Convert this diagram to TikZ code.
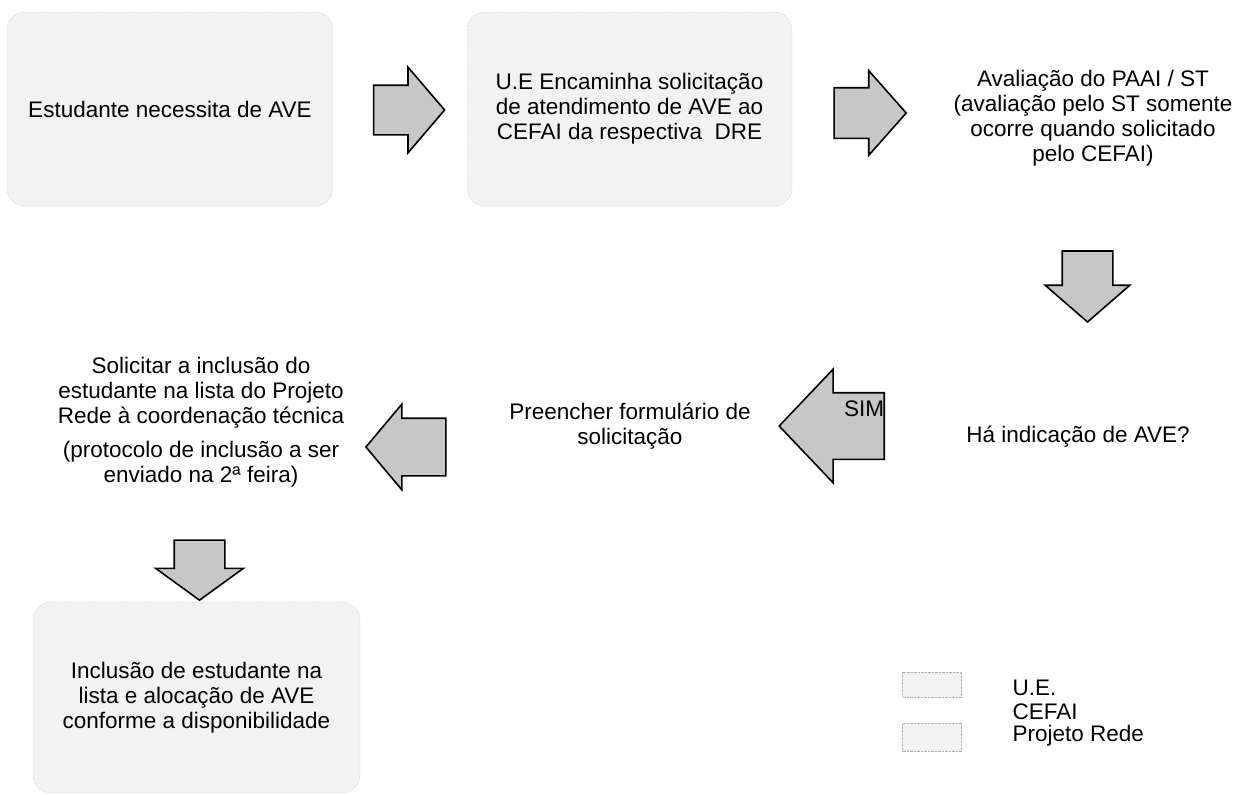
\documentclass[tikz,border=0pt]{standalone}
\usepackage{fontspec}
\setmainfont{Liberation Sans}
\usetikzlibrary{shapes.arrows}

\begin{document}
\begin{tikzpicture}[x=1pt, y=-1pt,
    font=\fontsize{22.5}{25}\selectfont,
    uebox/.style={rounded corners=18pt, fill=black!5, draw=black!35, densely dotted, thin},
    keybox/.style={fill=black!5, draw=black!30, densely dotted, thin},
    blockarrow/.style={single arrow, draw=black, fill=black!22, line width=1.6pt, inner sep=0pt}]
    \useasboundingbox (0,0) rectangle (1235,795);
    % boxes and texts
    \node[uebox, minimum width=326pt, minimum height=194pt] at (170,109) (P0) {Estudante necessita de AVE};
    \node[uebox, minimum width=325pt, minimum height=194pt, align=center] at (629.5,109) (P1) {U.E Encaminha solicitação\\de atendimento de AVE ao\\CEFAI da respectiva\ \ DRE};
    \node[align=center] at (1093,118) (P2) {Avaliação do PAAI / ST\\(avaliação pelo ST somente\\ocorre quando solicitado\\pelo CEFAI)};
    \node at (1078,437) (P3) {Há indicação de AVE?};
    \node[align=center] at (630,426) (P4) {Preencher formulário de\\solicitação};
    \node[align=center] at (201,422) (P5) {Solicitar a inclusão do\\estudante na lista do Projeto\\Rede à coordenação técnica\\[9pt](protocolo de inclusão a ser\\enviado na 2ª feira)};
    \node[uebox, minimum width=327pt, minimum height=191pt, align=center] at (196.5,697.5) (P6) {Inclusão de estudante na\\lista e alocação de AVE\\conforme a disponibilidade};
    % block arrows
    \node[blockarrow, minimum height=71pt, single arrow head extend=18pt, single arrow tip angle=99] at (398.5,110) (A0) {\rule{0pt}{48pt}};
    \node[blockarrow, minimum height=72pt, single arrow head extend=17pt, single arrow tip angle=97] at (859,113) (A1) {\rule{0pt}{49pt}};
    \node[blockarrow, rotate=-90, minimum height=71pt, single arrow head extend=17pt, single arrow tip angle=98] at (1087.5,275.5) (A2) {\rule{0pt}{49pt}};
    \node[blockarrow, rotate=180, minimum height=105pt, single arrow head extend=23.5pt, single arrow tip angle=93] at (847.5,426) (A3) {\rule{0pt}{65pt}};
    \node[blockarrow, rotate=180, minimum height=80pt, single arrow head extend=14pt, single arrow tip angle=100] at (418,447) (A4) {\rule{0pt}{56pt}};
    \node[blockarrow, rotate=-90, minimum height=60pt, single arrow head extend=18.5pt, single arrow tip angle=108] at (199.5,561) (A5) {\rule{0pt}{49pt}};
    \node at (864,409) (S) {SIM};
    % legend
    \node[keybox, minimum width=59pt, minimum height=25pt] at (932,684.5) (K0) {};
    \node[keybox, minimum width=59pt, minimum height=28pt] at (932,737) (K2) {};
    \node[anchor=west] at (1009,688) (L0) {U.E.};
    \node[anchor=west] at (1009,712) (L1) {CEFAI};
    \node[anchor=west] at (1009,736) (L2) {Projeto Rede};
\end{tikzpicture}
\end{document}
